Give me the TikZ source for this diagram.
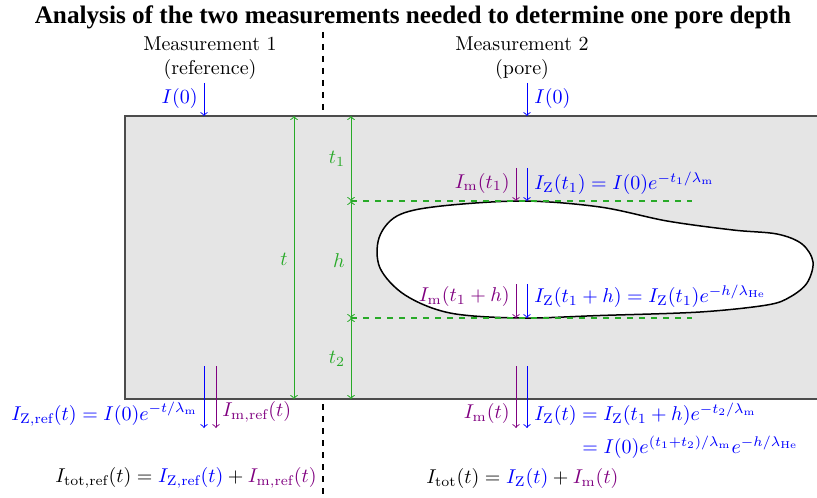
\documentclass[tikz,border=0pt]{standalone}
\usepackage{amsmath}
\usepackage{fontspec}
\newfontfamily\titlefont{Liberation Serif}
\definecolor{dimgreen}{RGB}{40,170,40}
\definecolor{mpurple}{RGB}{128,0,128}
\begin{document}
\begin{tikzpicture}[x=0.5pt,y=-0.5pt,
  lbl/.style={inner sep=1pt},
  bflux/.style={->,blue,line width=0.45pt},
  mflux/.style={->,mpurple,line width=0.45pt},
  dimline/.style={<->,draw=dimgreen,line width=0.5pt},
  dimlbl/.style={text=dimgreen,inner sep=1pt},
  guide/.style={dashed,draw=dimgreen,line width=0.75pt},
  divider/.style={dashed,line width=0.6pt}]
\useasboundingbox (0,0) rectangle (817,497);
% title
\node[font=\titlefont\bfseries\fontsize{12.6}{14}\selectfont] (title) at (413,17) {Analysis of the two measurements needed to determine one pore depth};
% divider
\coordinate (dv1) at (323,32);
\coordinate (dv2) at (323,497);
\draw[divider] (dv1) -- (dv2);
% sample
\coordinate (rtl) at (125,116);
\coordinate (rbr) at (830,399);
\draw[fill=black!10,draw=black!70,line width=0.7pt] (rtl) rectangle (rbr);
% headings
\node[lbl,align=center] (m1) at (210,58) {Measurement 1\\(reference)};
\node[lbl,align=center] (m2) at (522,58) {Measurement 2\\(pore)};
% pore
\draw[fill=white,line width=0.75pt] plot[smooth cycle,tension=0.55] coordinates {
 (522,201) (600,207) (667,221) (733,230) (777,234) (802,244) (813,262) (807,283)
 (790,297) (767,305) (700,312) (600,315.5) (520,318) (450,313) (405,295) (380,268)
 (379,238) (397,216) (437,206.5)};
% incoming I(0)
\coordinate (i1s) at (204,83); \coordinate (i1e) at (204,116);
\coordinate (i2s) at (527,83); \coordinate (i2e) at (527,116);
\draw[bflux] (i1s) -- (i1e);
\draw[bflux] (i2s) -- (i2e);
\node[lbl,blue,anchor=east] (li1) at (200,99) {$I(0)$};
\node[lbl,blue,anchor=west] (li2) at (532,99) {$I(0)$};
% dimensions
\coordinate (dt1) at (294,116); \coordinate (dt2) at (294,399);
\coordinate (dh0) at (351,116); \coordinate (dh1) at (351,201);
\coordinate (dh2) at (351,318); \coordinate (dh3) at (351,399);
\draw[dimline] (dt1) -- (dt2);
\draw[dimline] (dh0) -- (dh1);
\draw[dimline] (dh1) -- (dh2);
\draw[dimline] (dh2) -- (dh3);
\node[dimlbl] (lt) at (284,259) {$t$};
\node[dimlbl] (lt1) at (337,159) {$t_1$};
\node[dimlbl] (lh) at (339,261) {$h$};
\node[dimlbl] (lt2) at (337,359) {$t_2$};
\coordinate (g1) at (692,201); \coordinate (g2) at (692,318);
\draw[guide] (dh1) -- (g1);
\draw[guide] (dh2) -- (g2);
% pore top
\coordinate (pm1s) at (516,168); \coordinate (pm1e) at (516,201);
\coordinate (pz1s) at (527,168); \coordinate (pz1e) at (527,201);
\draw[mflux] (pm1s) -- (pm1e);
\draw[bflux] (pz1s) -- (pz1e);
\node[lbl,mpurple,anchor=east] (lpm1) at (512,183) {$I_{\mathrm{m}}(t_1)$};
\node[lbl,blue,anchor=west] (lpz1) at (532,183) {$I_{\mathrm{Z}}(t_1)=I(0)e^{-t_1/\lambda_{\mathrm{m}}}$};
% pore bottom
\coordinate (pm2s) at (516,284); \coordinate (pm2e) at (516,318);
\coordinate (pz2s) at (527,284); \coordinate (pz2e) at (527,318);
\draw[mflux] (pm2s) -- (pm2e);
\draw[bflux] (pz2s) -- (pz2e);
\node[lbl,mpurple,anchor=east] (lpm2) at (512,296) {$I_{\mathrm{m}}(t_1+h)$};
\node[lbl,blue,anchor=west] (lpz2) at (532,296) {$I_{\mathrm{Z}}(t_1+h)=I_{\mathrm{Z}}(t_1)e^{-h/\lambda_{\mathrm{He}}}$};
% exit, measurement 2
\coordinate (om2s) at (516,366); \coordinate (om2e) at (516,428);
\coordinate (oz2s) at (527,366); \coordinate (oz2e) at (527,428);
\draw[mflux] (om2s) -- (om2e);
\draw[bflux] (oz2s) -- (oz2e);
\node[lbl,mpurple,anchor=east] (lom2) at (512,413) {$I_{\mathrm{m}}(t)$};
\node[lbl,blue,anchor=west] (loz2) at (532,414) {$I_{\mathrm{Z}}(t)=I_{\mathrm{Z}}(t_1+h)e^{-t_2/\lambda_{\mathrm{m}}}$};
\node[lbl,blue,anchor=west] (loz2b) at (580,447) {$=I(0)e^{(t_1+t_2)/\lambda_{\mathrm{m}}}e^{-h/\lambda_{\mathrm{He}}}$};
% exit, measurement 1
\coordinate (oz1s) at (204,366); \coordinate (oz1e) at (204,428);
\coordinate (om1s) at (216,366); \coordinate (om1e) at (216,428);
\draw[bflux] (oz1s) -- (oz1e);
\draw[mflux] (om1s) -- (om1e);
\node[lbl,blue,anchor=east] (loz1) at (200,414) {$I_{\mathrm{Z,ref}}(t)=I(0)e^{-t/\lambda_{\mathrm{m}}}$};
\node[lbl,mpurple,anchor=west] (lom1) at (220,412) {$I_{\mathrm{m,ref}}(t)$};
% totals
\node[lbl,anchor=east] (tot1) at (319,478) {$I_{\mathrm{tot,ref}}(t)={\color{blue}I_{\mathrm{Z,ref}}(t)}+{\color{mpurple}I_{\mathrm{m,ref}}(t)}$};
\node[lbl,anchor=west] (tot2) at (424,478) {$I_{\mathrm{tot}}(t)={\color{blue}I_{\mathrm{Z}}(t)}+{\color{mpurple}I_{\mathrm{m}}(t)}$};
\end{tikzpicture}
\end{document}
